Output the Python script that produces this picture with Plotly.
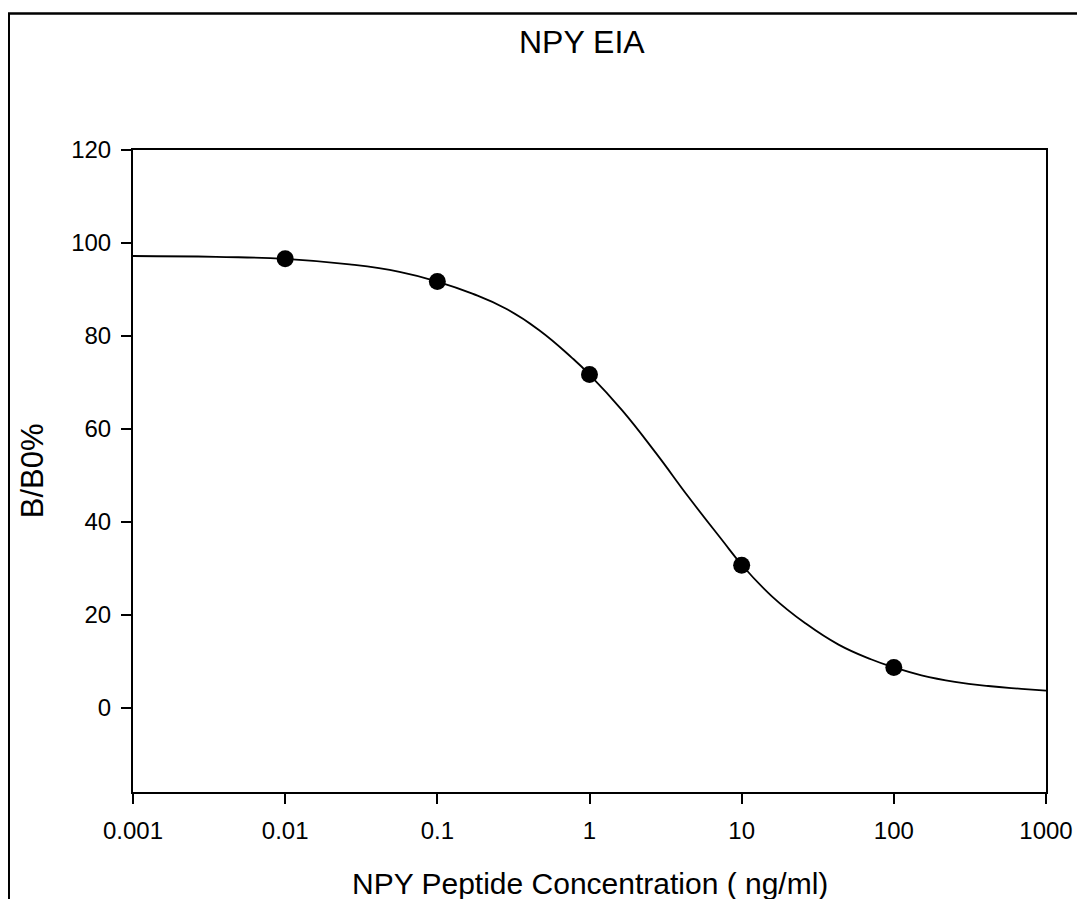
import plotly.graph_objects as go

# Measured standards
conc = [0.01, 0.1, 1, 10, 100]
bb0 = [96.6, 91.7, 71.7, 30.7, 8.7]

# Fitted curve
curve_x = [0.001, 0.00352, 0.01, 0.0265, 0.0564, 0.1, 0.17, 0.281, 0.465,
           0.767, 1.0, 1.64, 2.72, 4.49, 7.43, 10, 15.8, 26.2, 43.3, 71.4,
           100, 152, 252, 417, 689, 1000]
curve_y = [97.2, 97.0, 96.6, 95.4, 93.8, 91.7, 89.1, 85.9, 81.3,
           75.3, 71.7, 64.0, 54.9, 45.3, 36.1, 30.8, 24.0, 18.2, 13.6, 10.4,
           8.7, 7.0, 5.6, 4.7, 4.1, 3.7]

x_ticks = [0.001, 0.01, 0.1, 1, 10, 100, 1000]
x_ticktext = ["0.001", "0.01", "0.1", "1", "10", "100", "1000"]
y_ticks = [0, 20, 40, 60, 80, 100, 120]

FONT = "Liberation Sans, Arial, sans-serif"

fig = go.Figure()
fig.add_trace(go.Scatter(x=curve_x, y=curve_y, mode="lines",
                         line=dict(color="black", width=1.8, shape="spline", smoothing=1.3),
                         showlegend=False, hoverinfo="skip"))
fig.add_trace(go.Scatter(x=conc, y=bb0, mode="markers",
                         marker=dict(color="black", size=17),
                         showlegend=False))

fig.update_layout(
    width=1077, height=891,
    margin=dict(l=125, r=37, t=142, b=107),
    paper_bgcolor="white", plot_bgcolor="white",
    font=dict(family=FONT, color="black", size=24),
    xaxis=dict(type="log", range=[-3, 3], tickvals=x_ticks, ticktext=x_ticktext,
               ticks="outside", ticklen=10, tickwidth=2, tickcolor="black",
               showline=True, linecolor="black", linewidth=2, mirror=True,
               showgrid=False, zeroline=False, ticklabelstandoff=6,
               tickfont=dict(size=24)),
    yaxis=dict(range=[-18.1, 120], tickvals=y_ticks,
               ticks="outside", ticklen=10, tickwidth=2, tickcolor="black",
               showline=True, linecolor="black", linewidth=2, mirror=True,
               showgrid=False, zeroline=False, ticklabelstandoff=5,
               tickfont=dict(size=24)),
    shapes=[dict(type="rect", xref="paper", yref="paper",
                 x0=-0.1361, x1=1.2, y0=-0.3, y1=1.2126,
                 line=dict(color="black", width=2.5), fillcolor="rgba(0,0,0,0)",
                 layer="below")],
    annotations=[
        dict(text="NPY EIA", xref="paper", yref="paper", x=0.4918, y=1.168,
             xanchor="center", yanchor="middle", showarrow=False,
             font=dict(size=32, family=FONT)),
        dict(text="NPY Peptide Concentration ( ng/ml)", xref="paper", yref="paper",
             x=0.5, y=-0.1433, xanchor="center", yanchor="middle", showarrow=False,
             font=dict(size=30, family=FONT)),
        dict(text="B/B0%", xref="paper", yref="paper", x=-0.1104, y=0.5,
             xanchor="center", yanchor="middle", showarrow=False, textangle=-90,
             font=dict(size=31, family=FONT)),
    ],
)

fig.write_html("out.html")
